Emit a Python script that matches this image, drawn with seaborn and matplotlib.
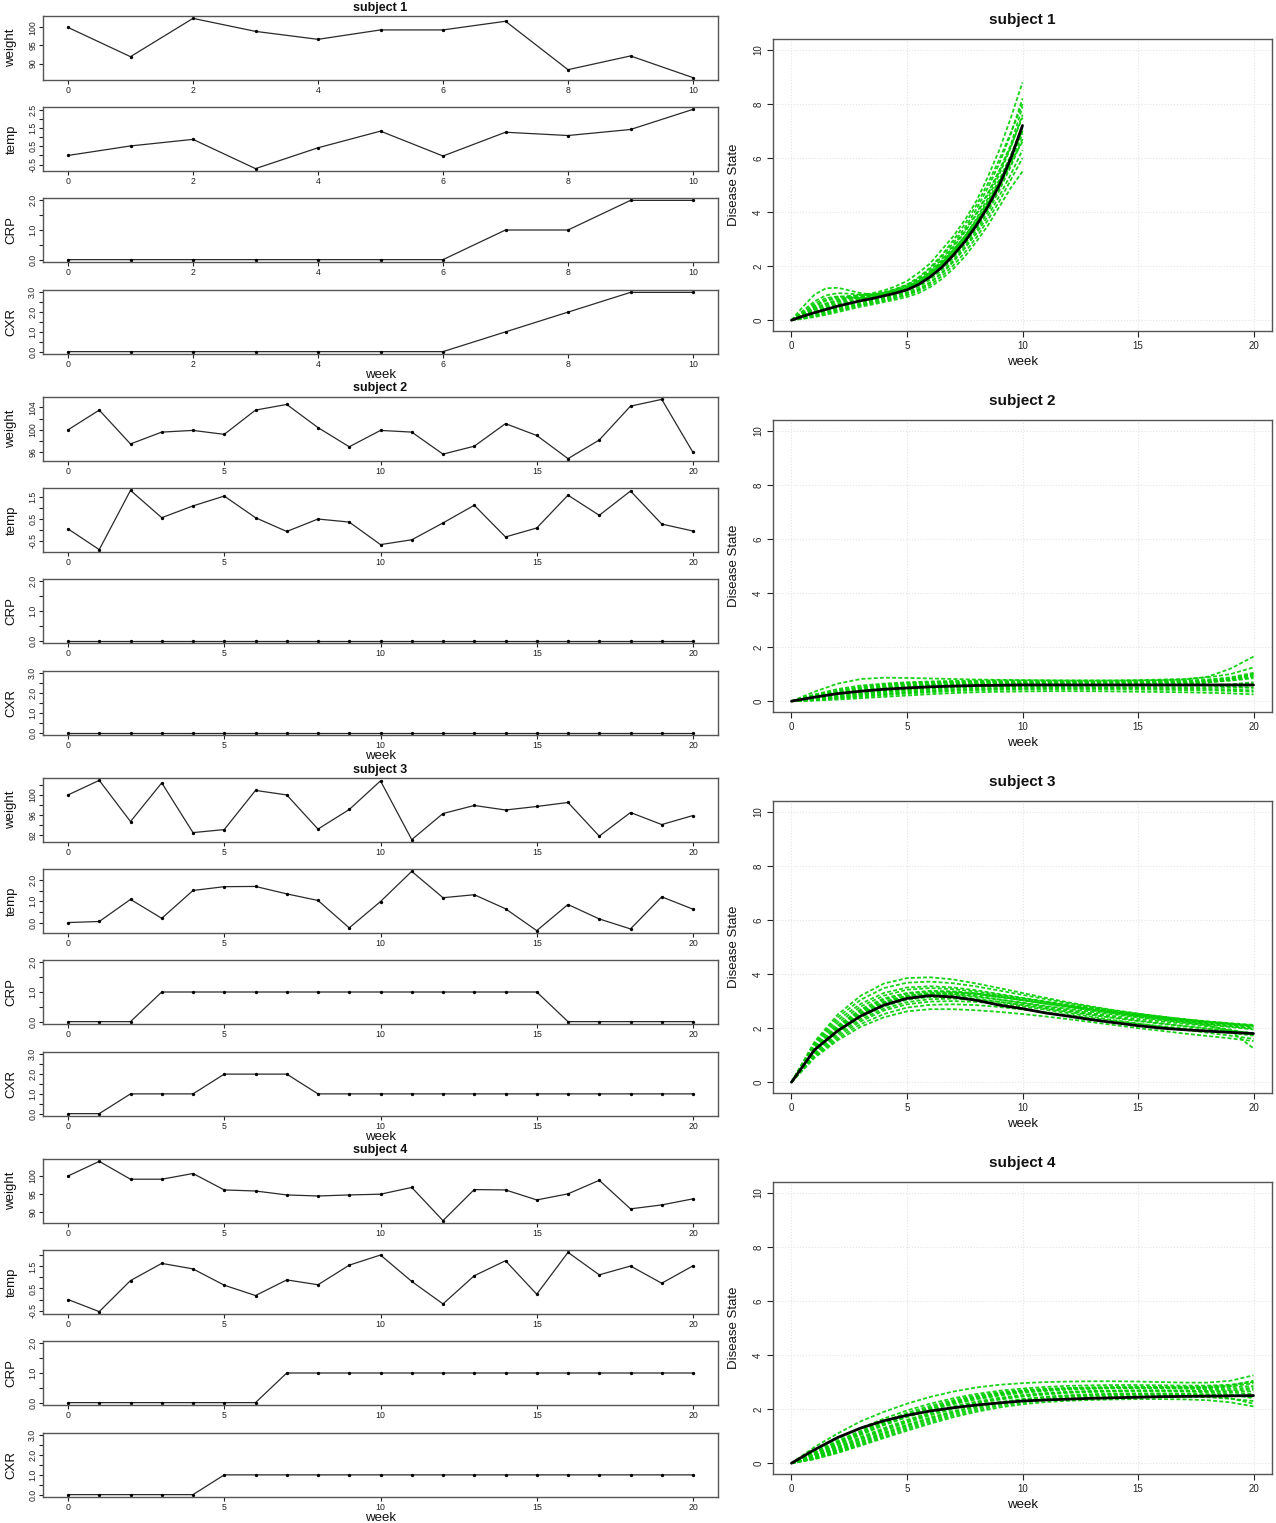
import matplotlib
matplotlib.use("Agg")
import matplotlib.pyplot as plt
import numpy as np
import pandas as pd
import seaborn as sns

# ---------------- data ----------------
subjects = ["subject 1", "subject 2", "subject 3", "subject 4"]
weeks_10 = [0, 1, 2, 3, 4, 5, 6, 7, 8, 9, 10]
weeks_20 = [0, 1, 2, 3, 4, 5, 6, 7, 8, 9, 10, 11, 12, 13, 14, 15, 16, 17, 18, 19, 20]
weeks_half10 = [0, 0.5, 1, 1.5, 2, 2.5, 3, 3.5, 4, 4.5, 5, 5.5, 6, 6.5, 7, 7.5, 8, 8.5, 9, 9.5, 10]

# subject 1 covariates
s1_weight = [100, 91.9, 102.5, 98.9, 96.7, 99.3, 99.3, 101.7, 88.3, 92.1, 86.1]
s1_temp = [0.0, 0.52, 0.88, -0.72, 0.42, 1.33, -0.03, 1.27, 1.09, 1.42, 2.52]
s1_crp = [0, 0, 0, 0, 0, 0, 0, 1, 1, 2, 2]
s1_cxr = [0, 0, 0, 0, 0, 0, 0, 1, 2, 3, 3]

# subject 2 covariates
s2_weight = [100, 103.5, 97.5, 99.6, 99.9, 99.2, 103.5, 104.5, 100.4, 97.0, 99.9,
             99.6, 95.7, 97.1, 101.1, 99.0, 94.9, 98.2, 104.2, 105.4, 96.0]
s2_temp = [0.05, -0.90, 1.81, 0.56, 1.10, 1.55, 0.56, -0.07, 0.50, 0.36, -0.67,
           -0.45, 0.32, 1.13, -0.32, 0.09, 1.59, 0.67, 1.78, 0.27, -0.05]
s2_crp = [0] * 21
s2_cxr = [0] * 21

# subject 3 covariates
s3_weight = [100, 102.9, 94.7, 102.4, 92.5, 93.1, 100.9, 100.0, 93.2, 97.1, 102.8,
             91.1, 96.3, 97.9, 97.0, 97.7, 98.5, 91.8, 96.5, 94.1, 95.9]
s3_temp = [0.0, 0.05, 1.09, 0.20, 1.51, 1.69, 1.70, 1.35, 1.04, -0.25, 0.99,
           2.41, 1.17, 1.31, 0.65, -0.38, 0.85, 0.17, -0.30, 1.21, 0.63]
s3_crp = [0, 0, 0, 1, 1, 1, 1, 1, 1, 1, 1, 1, 1, 1, 1, 1, 0, 0, 0, 0, 0]
s3_cxr = [0, 0, 1, 1, 1, 2, 2, 2, 1, 1, 1, 1, 1, 1, 1, 1, 1, 1, 1, 1, 1]

# subject 4 covariates
s4_weight = [100, 104.1, 99.1, 99.1, 100.7, 96.1, 95.8, 94.7, 94.4, 94.7, 94.9,
             96.8, 87.5, 96.2, 96.1, 93.3, 95.0, 98.8, 90.8, 91.9, 93.6]
s4_temp = [0.0, -0.55, 0.86, 1.64, 1.39, 0.65, 0.18, 0.89, 0.67, 1.56, 2.02,
           0.82, -0.20, 1.08, 1.76, 0.24, 2.14, 1.12, 1.52, 0.74, 1.53]
s4_crp = [0, 0, 0, 0, 0, 0, 0, 1, 1, 1, 1, 1, 1, 1, 1, 1, 1, 1, 1, 1, 1]
s4_cxr = [0, 0, 0, 0, 0, 1, 1, 1, 1, 1, 1, 1, 1, 1, 1, 1, 1, 1, 1, 1, 1]

# tick values / labels for the covariate panels
s1_weight_ticks = [90, 95, 100]; s1_weight_labels = ["90", "95", "100"]
s2_weight_ticks = [96, 98, 100, 102, 104]; s2_weight_labels = ["96", "", "100", "", "104"]
s3_weight_ticks = [92, 94, 96, 98, 100, 102]; s3_weight_labels = ["92", "", "96", "", "100", ""]
s4_weight_ticks = [90, 95, 100]; s4_weight_labels = ["90", "95", "100"]
s1_temp_ticks = [-0.5, 0, 0.5, 1, 1.5, 2, 2.5]; s1_temp_labels = ["-0.5", "", "0.5", "", "1.5", "", "2.5"]
s2_temp_ticks = [-0.5, 0, 0.5, 1, 1.5]; s2_temp_labels = ["-0.5", "", "0.5", "", "1.5"]
s3_temp_ticks = [0, 0.5, 1, 1.5, 2]; s3_temp_labels = ["0.0", "", "1.0", "", "2.0"]
s4_temp_ticks = [-0.5, 0, 0.5, 1, 1.5, 2]; s4_temp_labels = ["-0.5", "", "0.5", "", "1.5", ""]
crp_ticks = [0, 0.5, 1, 1.5, 2]; crp_labels = ["0.0", "", "1.0", "", "2.0"]
cxr_ticks = [0, 0.5, 1, 1.5, 2, 2.5, 3]; cxr_labels = ["0.0", "", "1.0", "", "2.0", "", "3.0"]
crp_range = [0, 2]
cxr_range = [0, 3]
x10_ticks = [0, 2, 4, 6, 8, 10]
x20_ticks = [0, 5, 10, 15, 20]
state_ticks = [0, 2, 4, 6, 8, 10]

# disease state: posterior mean (black) and sampled trajectories (green)
s1_mean = [0, 0.15, 0.28, 0.40, 0.52, 0.62, 0.72, 0.80, 0.90, 1.00, 1.12,
           1.32, 1.60, 1.95, 2.40, 2.90, 3.50, 4.20, 5.00, 6.00, 7.20]
s1_draws = [
    [0, 0.50, 0.95, 1.18, 1.20, 1.10, 1.00, 0.95, 1.00, 1.10, 1.25, 1.45, 1.75, 2.15, 2.60, 3.10, 3.70, 4.40, 5.20, 6.10, 7.00],
    [0, 0.25, 0.45, 0.62, 0.75, 0.85, 0.92, 1.00, 1.10, 1.25, 1.45, 1.75, 2.10, 2.60, 3.10, 3.70, 4.40, 5.30, 6.30, 7.50, 8.80],
    [0, 0.20, 0.40, 0.55, 0.68, 0.78, 0.85, 0.93, 1.02, 1.15, 1.30, 1.55, 1.90, 2.35, 2.85, 3.40, 4.10, 4.90, 5.80, 6.90, 8.20],
    [0, 0.18, 0.35, 0.50, 0.62, 0.72, 0.80, 0.88, 0.97, 1.07, 1.20, 1.42, 1.72, 2.10, 2.60, 3.10, 3.75, 4.50, 5.40, 6.40, 7.60],
    [0, 0.12, 0.25, 0.36, 0.47, 0.56, 0.65, 0.73, 0.82, 0.92, 1.03, 1.22, 1.50, 1.85, 2.30, 2.80, 3.40, 4.10, 4.90, 5.80, 6.90],
    [0, 0.08, 0.18, 0.28, 0.38, 0.48, 0.58, 0.66, 0.75, 0.84, 0.95, 1.12, 1.38, 1.72, 2.15, 2.65, 3.20, 3.85, 4.60, 5.40, 6.30],
    [0, 0.05, 0.12, 0.20, 0.30, 0.40, 0.50, 0.58, 0.67, 0.76, 0.86, 1.00, 1.22, 1.52, 1.90, 2.35, 2.90, 3.50, 4.20, 4.90, 5.50],
    [0, 0.30, 0.62, 0.82, 0.88, 0.85, 0.82, 0.84, 0.90, 1.00, 1.15, 1.38, 1.68, 2.05, 2.50, 3.00, 3.60, 4.30, 5.10, 6.00, 7.00],
    [0, 0.22, 0.50, 0.72, 0.80, 0.82, 0.83, 0.86, 0.92, 1.02, 1.18, 1.40, 1.70, 2.10, 2.55, 3.05, 3.65, 4.35, 5.15, 6.10, 7.20],
    [0, 0.10, 0.22, 0.32, 0.42, 0.52, 0.60, 0.70, 0.80, 0.90, 1.00, 1.15, 1.40, 1.75, 2.20, 2.70, 3.30, 4.00, 4.80, 5.70, 6.70],
    [0, 0.20, 0.42, 0.60, 0.72, 0.80, 0.86, 0.92, 1.00, 1.12, 1.28, 1.50, 1.82, 2.25, 2.75, 3.30, 3.95, 4.70, 5.55, 6.50, 7.90],
    [0, 0.15, 0.30, 0.45, 0.58, 0.68, 0.76, 0.84, 0.94, 1.05, 1.18, 1.38, 1.68, 2.05, 2.50, 3.00, 3.60, 4.30, 5.10, 6.00, 7.10],
    [0, 0.28, 0.55, 0.75, 0.86, 0.90, 0.92, 0.95, 1.03, 1.15, 1.32, 1.58, 1.95, 2.40, 2.95, 3.55, 4.25, 5.05, 5.95, 6.95, 8.00],
    [0, 0.06, 0.15, 0.25, 0.35, 0.45, 0.55, 0.63, 0.72, 0.82, 0.93, 1.08, 1.30, 1.62, 2.02, 2.50, 3.05, 3.70, 4.40, 5.20, 6.00],
    [0, 0.35, 0.70, 0.92, 1.00, 0.98, 0.94, 0.93, 0.98, 1.08, 1.22, 1.45, 1.78, 2.20, 2.70, 3.25, 3.90, 4.65, 5.50, 6.45, 7.50],
    [0, 0.14, 0.28, 0.42, 0.54, 0.64, 0.73, 0.81, 0.90, 1.00, 1.12, 1.30, 1.58, 1.95, 2.42, 2.95, 3.55, 4.25, 5.00, 5.85, 6.60],
]

s2_mean = [0, 0.15, 0.28, 0.37, 0.44, 0.49, 0.53, 0.56, 0.58, 0.59, 0.60,
           0.60, 0.60, 0.60, 0.60, 0.60, 0.60, 0.60, 0.60, 0.60, 0.60]
s2_draws = [
    [0, 0.35, 0.65, 0.82, 0.87, 0.86, 0.84, 0.82, 0.80, 0.79, 0.78, 0.77, 0.76, 0.76, 0.76, 0.77, 0.78, 0.80, 0.90, 1.20, 1.65],
    [0, 0.25, 0.45, 0.58, 0.65, 0.70, 0.73, 0.75, 0.76, 0.77, 0.77, 0.77, 0.77, 0.77, 0.77, 0.78, 0.80, 0.82, 0.88, 1.00, 1.25],
    [0, 0.20, 0.37, 0.50, 0.58, 0.64, 0.68, 0.70, 0.71, 0.72, 0.72, 0.72, 0.72, 0.72, 0.73, 0.74, 0.75, 0.76, 0.80, 0.88, 1.05],
    [0, 0.15, 0.30, 0.42, 0.50, 0.56, 0.60, 0.63, 0.65, 0.66, 0.66, 0.66, 0.66, 0.66, 0.66, 0.67, 0.68, 0.70, 0.72, 0.78, 0.90],
    [0, 0.10, 0.20, 0.30, 0.38, 0.44, 0.49, 0.52, 0.55, 0.56, 0.57, 0.57, 0.57, 0.57, 0.57, 0.57, 0.57, 0.57, 0.58, 0.60, 0.65],
    [0, 0.06, 0.14, 0.22, 0.29, 0.35, 0.40, 0.44, 0.47, 0.49, 0.50, 0.50, 0.50, 0.50, 0.50, 0.50, 0.50, 0.50, 0.50, 0.50, 0.50],
    [0, 0.04, 0.10, 0.16, 0.22, 0.28, 0.33, 0.37, 0.40, 0.42, 0.43, 0.44, 0.44, 0.44, 0.44, 0.43, 0.42, 0.41, 0.40, 0.38, 0.35],
    [0, 0.02, 0.06, 0.11, 0.16, 0.21, 0.26, 0.30, 0.33, 0.35, 0.36, 0.37, 0.37, 0.37, 0.36, 0.35, 0.34, 0.33, 0.31, 0.29, 0.25],
    [0, 0.12, 0.26, 0.38, 0.47, 0.54, 0.59, 0.62, 0.64, 0.65, 0.65, 0.64, 0.63, 0.62, 0.61, 0.60, 0.60, 0.62, 0.68, 0.80, 1.00],
    [0, 0.08, 0.17, 0.26, 0.34, 0.41, 0.46, 0.50, 0.53, 0.55, 0.56, 0.57, 0.58, 0.59, 0.60, 0.62, 0.64, 0.66, 0.70, 0.76, 0.85],
    [0, 0.18, 0.34, 0.46, 0.54, 0.60, 0.64, 0.67, 0.69, 0.70, 0.70, 0.70, 0.70, 0.69, 0.69, 0.69, 0.70, 0.72, 0.76, 0.85, 1.00],
    [0, 0.05, 0.12, 0.19, 0.26, 0.32, 0.37, 0.41, 0.44, 0.46, 0.47, 0.48, 0.48, 0.48, 0.48, 0.48, 0.47, 0.46, 0.45, 0.43, 0.40],
    [0, 0.13, 0.27, 0.39, 0.48, 0.55, 0.60, 0.63, 0.65, 0.66, 0.66, 0.66, 0.66, 0.65, 0.64, 0.63, 0.62, 0.60, 0.58, 0.55, 0.50],
    [0, 0.09, 0.19, 0.28, 0.36, 0.42, 0.47, 0.51, 0.54, 0.56, 0.57, 0.58, 0.59, 0.60, 0.60, 0.60, 0.60, 0.60, 0.60, 0.62, 0.70],
    [0, 0.22, 0.40, 0.53, 0.62, 0.67, 0.70, 0.72, 0.73, 0.73, 0.73, 0.73, 0.73, 0.72, 0.72, 0.72, 0.72, 0.73, 0.75, 0.82, 0.95],
]

s3_mean = [0, 1.20, 1.90, 2.45, 2.85, 3.10, 3.20, 3.15, 3.03, 2.85, 2.72,
           2.56, 2.44, 2.31, 2.20, 2.09, 2.00, 1.94, 1.89, 1.84, 1.80]
s3_draws = [
    [0, 1.50, 2.50, 3.20, 3.65, 3.85, 3.88, 3.80, 3.65, 3.48, 3.30, 3.12, 2.95, 2.80, 2.66, 2.54, 2.43, 2.33, 2.24, 2.17, 2.10],
    [0, 1.40, 2.30, 2.90, 3.30, 3.50, 3.55, 3.50, 3.40, 3.26, 3.12, 2.98, 2.84, 2.70, 2.58, 2.47, 2.37, 2.28, 2.20, 2.12, 2.05],
    [0, 1.30, 2.10, 2.70, 3.10, 3.30, 3.38, 3.36, 3.28, 3.16, 3.03, 2.90, 2.77, 2.65, 2.53, 2.42, 2.32, 2.22, 2.13, 2.04, 1.95],
    [0, 1.10, 1.85, 2.40, 2.80, 3.05, 3.15, 3.15, 3.08, 2.97, 2.85, 2.72, 2.60, 2.48, 2.37, 2.26, 2.16, 2.07, 1.98, 1.90, 1.82],
    [0, 0.90, 1.55, 2.05, 2.40, 2.62, 2.70, 2.70, 2.66, 2.60, 2.52, 2.43, 2.33, 2.22, 2.11, 2.00, 1.90, 1.80, 1.71, 1.62, 1.52],
    [0, 1.20, 2.00, 2.55, 2.95, 3.20, 3.30, 3.32, 3.28, 3.20, 3.10, 2.98, 2.86, 2.74, 2.62, 2.50, 2.38, 2.27, 2.17, 2.08, 2.00],
    [0, 1.00, 1.70, 2.25, 2.65, 2.88, 2.98, 3.00, 2.97, 2.90, 2.80, 2.68, 2.55, 2.42, 2.29, 2.17, 2.05, 1.94, 1.83, 1.72, 1.60],
    [0, 1.25, 2.05, 2.60, 2.98, 3.20, 3.28, 3.26, 3.18, 3.06, 2.93, 2.80, 2.67, 2.55, 2.44, 2.34, 2.25, 2.16, 2.07, 1.95, 1.75],
    [0, 1.15, 1.95, 2.50, 2.90, 3.12, 3.22, 3.22, 3.15, 3.05, 2.94, 2.82, 2.71, 2.60, 2.50, 2.40, 2.30, 2.20, 2.10, 1.90, 1.25],
    [0, 1.35, 2.20, 2.80, 3.20, 3.42, 3.48, 3.44, 3.35, 3.23, 3.10, 2.97, 2.84, 2.72, 2.61, 2.51, 2.42, 2.33, 2.25, 2.18, 2.12],
    [0, 1.28, 2.08, 2.65, 3.05, 3.27, 3.35, 3.34, 3.27, 3.16, 3.04, 2.92, 2.80, 2.69, 2.58, 2.48, 2.39, 2.30, 2.22, 2.14, 2.06],
    [0, 1.05, 1.78, 2.32, 2.72, 2.96, 3.07, 3.09, 3.05, 2.97, 2.87, 2.75, 2.63, 2.51, 2.39, 2.28, 2.18, 2.08, 1.99, 1.90, 1.80],
    [0, 1.18, 1.98, 2.52, 2.92, 3.16, 3.27, 3.28, 3.23, 3.14, 3.03, 2.91, 2.79, 2.67, 2.56, 2.45, 2.35, 2.25, 2.15, 2.06, 1.98],
    [0, 0.95, 1.62, 2.15, 2.52, 2.76, 2.86, 2.88, 2.85, 2.78, 2.69, 2.59, 2.48, 2.37, 2.26, 2.16, 2.07, 1.99, 1.91, 1.83, 1.72],
    [0, 1.45, 2.40, 3.05, 3.48, 3.68, 3.72, 3.66, 3.54, 3.39, 3.23, 3.07, 2.92, 2.78, 2.65, 2.53, 2.42, 2.32, 2.23, 2.15, 2.08],
]

s4_mean = [0, 0.50, 0.95, 1.30, 1.57, 1.77, 1.93, 2.05, 2.15, 2.23, 2.30,
           2.34, 2.37, 2.40, 2.42, 2.44, 2.46, 2.47, 2.48, 2.49, 2.50]
s4_draws = [
    [0, 0.60, 1.10, 1.55, 1.90, 2.20, 2.45, 2.65, 2.80, 2.90, 2.96, 3.00, 3.02, 3.03, 3.03, 3.02, 3.00, 2.98, 2.98, 3.05, 3.25],
    [0, 0.45, 0.90, 1.30, 1.65, 1.95, 2.20, 2.40, 2.56, 2.68, 2.76, 2.82, 2.86, 2.88, 2.89, 2.89, 2.88, 2.87, 2.87, 2.90, 3.00],
    [0, 0.35, 0.75, 1.12, 1.47, 1.78, 2.04, 2.26, 2.43, 2.56, 2.65, 2.71, 2.75, 2.77, 2.78, 2.78, 2.78, 2.77, 2.76, 2.76, 2.78],
    [0, 0.28, 0.62, 0.97, 1.30, 1.60, 1.87, 2.10, 2.28, 2.42, 2.52, 2.59, 2.64, 2.67, 2.68, 2.69, 2.69, 2.68, 2.67, 2.66, 2.65],
    [0, 0.22, 0.50, 0.82, 1.13, 1.42, 1.69, 1.92, 2.11, 2.26, 2.37, 2.45, 2.50, 2.53, 2.55, 2.56, 2.56, 2.55, 2.53, 2.50, 2.45],
    [0, 0.15, 0.38, 0.65, 0.93, 1.20, 1.46, 1.70, 1.90, 2.06, 2.18, 2.26, 2.31, 2.34, 2.36, 2.37, 2.37, 2.36, 2.33, 2.25, 2.10],
    [0, 0.30, 0.68, 1.05, 1.40, 1.70, 1.96, 2.18, 2.36, 2.50, 2.60, 2.67, 2.72, 2.75, 2.77, 2.78, 2.79, 2.79, 2.80, 2.85, 2.95],
    [0, 0.25, 0.55, 0.88, 1.20, 1.50, 1.77, 2.00, 2.20, 2.35, 2.46, 2.54, 2.60, 2.63, 2.65, 2.66, 2.66, 2.65, 2.62, 2.55, 2.40],
    [0, 0.40, 0.82, 1.20, 1.55, 1.86, 2.12, 2.33, 2.50, 2.62, 2.70, 2.75, 2.78, 2.80, 2.81, 2.81, 2.81, 2.80, 2.80, 2.82, 2.85],
    [0, 0.18, 0.44, 0.74, 1.04, 1.32, 1.58, 1.82, 2.02, 2.18, 2.30, 2.39, 2.45, 2.49, 2.51, 2.52, 2.52, 2.51, 2.48, 2.40, 2.20],
    [0, 0.32, 0.70, 1.08, 1.43, 1.74, 2.00, 2.22, 2.40, 2.54, 2.64, 2.71, 2.76, 2.78, 2.79, 2.79, 2.78, 2.76, 2.73, 2.70, 2.72],
    [0, 0.20, 0.47, 0.78, 1.09, 1.38, 1.64, 1.88, 2.08, 2.24, 2.36, 2.45, 2.51, 2.55, 2.57, 2.58, 2.58, 2.57, 2.55, 2.52, 2.50],
    [0, 0.38, 0.79, 1.16, 1.50, 1.80, 2.06, 2.28, 2.46, 2.59, 2.68, 2.74, 2.78, 2.80, 2.81, 2.82, 2.82, 2.82, 2.83, 2.88, 3.05],
    [0, 0.26, 0.58, 0.92, 1.25, 1.55, 1.82, 2.05, 2.24, 2.39, 2.50, 2.58, 2.63, 2.66, 2.68, 2.69, 2.69, 2.68, 2.66, 2.62, 2.55],
    [0, 0.16, 0.40, 0.69, 0.98, 1.26, 1.52, 1.76, 1.96, 2.12, 2.24, 2.33, 2.39, 2.43, 2.45, 2.46, 2.47, 2.46, 2.44, 2.38, 2.30],
]

# ---------------- style ----------------
sns.set_theme(style="white")
plt.rcParams["font.family"] = ["Liberation Sans", "DejaVu Sans"]
plt.rcParams["axes.edgecolor"] = "#555555"
plt.rcParams["axes.linewidth"] = 1.0

W, H = 1276, 1523
fig = plt.figure(figsize=(W / 100, H / 100), dpi=100)
fig.patch.set_facecolor("white")


def px_axes(x0, y0, x1, y1):
    return fig.add_axes([x0 / W, 1 - y1 / H, (x1 - x0) / W, (y1 - y0) / H])


def left_panel(ax, x, y, yticks, ylabels, xticks, name, yrange=None, show_week=False):
    sns.lineplot(x=x, y=y, ax=ax, color="#2a2a2a", lw=0.9, marker="o",
                 markersize=2.4, markeredgewidth=0, markerfacecolor="black",
                 estimator=None)
    xmin, xmax = min(x), max(x)
    xp = 0.04 * (xmax - xmin)
    ax.set_xlim(xmin - xp, xmax + xp)
    lo, hi = (min(y), max(y)) if yrange is None else yrange
    yp = 0.04 * (hi - lo)
    ax.set_ylim(lo - yp, hi + yp)
    ax.set_xticks(xticks)
    ax.set_xticklabels([str(t) for t in xticks])
    ax.set_yticks(yticks)
    ax.set_yticklabels(ylabels, rotation=90, va="center")
    ax.tick_params(axis="both", direction="out", length=3, width=0.8,
                   labelsize=6.3, pad=1.2, colors="#222222", left=True, bottom=True)
    ax.set_ylabel(name, fontsize=9.5, color="#111111")
    ax.yaxis.set_label_coords(-0.038, 0.5)
    if show_week:
        ax.set_xlabel("week", fontsize=9.5, color="#111111")
        ax.xaxis.set_label_coords(0.5, -0.23)
    else:
        ax.set_xlabel("")
    for s in ax.spines.values():
        s.set_color("#555555")
        s.set_linewidth(1.0)


def right_panel(ax, weeks, mean, draws):
    rows = []
    for k, curve in enumerate(draws):
        for w, v in zip(weeks, curve):
            rows.append((k, w, v))
    df = pd.DataFrame(rows, columns=["draw", "week", "state"])
    ax.grid(True, color="#e4e4e4", linestyle=":", linewidth=0.8)
    ax.set_axisbelow(True)
    sns.lineplot(data=df, x="week", y="state", units="draw", estimator=None,
                 color="#00CD00", lw=1.3, linestyle=(0, (2.2, 1.2)), ax=ax,
                 alpha=0.9)
    sns.lineplot(x=weeks, y=mean, color="black", lw=2.0, ax=ax, estimator=None)
    ax.set_xlim(-0.8, 20.8)
    ax.set_ylim(-0.4, 10.4)
    ax.set_xticks(x20_ticks)
    ax.set_xticklabels([str(t) for t in x20_ticks])
    ax.set_yticks(state_ticks)
    ax.set_yticklabels([str(t) for t in state_ticks], rotation=90, va="center")
    ax.tick_params(axis="both", direction="out", length=4, width=0.8,
                   labelsize=7, pad=3, colors="#222222", left=True, bottom=True)
    ax.set_ylabel("Disease State", fontsize=9.5, color="#111111")
    ax.yaxis.set_label_coords(-0.066, 0.5)
    ax.set_xlabel("week", fontsize=9.5, color="#111111")
    ax.xaxis.set_label_coords(0.5, -0.085)
    for s in ax.spines.values():
        s.set_color("#555555")
        s.set_linewidth(1.0)


covariates = [
    (weeks_10, s1_weight, s1_temp, s1_crp, s1_cxr, s1_weight_ticks, s1_weight_labels,
     s1_temp_ticks, s1_temp_labels, x10_ticks),
    (weeks_20, s2_weight, s2_temp, s2_crp, s2_cxr, s2_weight_ticks, s2_weight_labels,
     s2_temp_ticks, s2_temp_labels, x20_ticks),
    (weeks_20, s3_weight, s3_temp, s3_crp, s3_cxr, s3_weight_ticks, s3_weight_labels,
     s3_temp_ticks, s3_temp_labels, x20_ticks),
    (weeks_20, s4_weight, s4_temp, s4_crp, s4_cxr, s4_weight_ticks, s4_weight_labels,
     s4_temp_ticks, s4_temp_labels, x20_ticks),
]
states = [
    (weeks_half10, s1_mean, s1_draws),
    (weeks_20, s2_mean, s2_draws),
    (weeks_20, s3_mean, s3_draws),
    (weeks_20, s4_mean, s4_draws),
]

LX0, LX1 = 43, 718
RX0, RX1 = 773, 1272
panel_rows = [(16, 80), (107, 171), (198, 262), (290, 354)]

for i, subj in enumerate(subjects):
    off = i * 381
    (wk, wt, tp, crp, cxr, wtt, wtl, tpt, tpl, xt) = covariates[i]
    fig.text((LX0 + LX1) / 2 / W, 1 - (off + 7.5) / H, subj, ha="center", va="center",
             fontsize=9, fontweight="bold", color="#111111")
    specs = [
        (wt, wtt, wtl, "weight", None),
        (tp, tpt, tpl, "temp", None),
        (crp, crp_ticks, crp_labels, "CRP", crp_range),
        (cxr, cxr_ticks, cxr_labels, "CXR", cxr_range),
    ]
    for j, (vals, yt, yl, name, yr) in enumerate(specs):
        y0, y1 = panel_rows[j]
        ax = px_axes(LX0, off + y0, LX1, off + y1)
        left_panel(ax, wk, vals, yt, yl, xt, name, yrange=yr, show_week=(j == 3))

    swk, smean, sdraws = states[i]
    fig.text((RX0 + RX1) / 2 / W, 1 - (off + 20) / H, subj, ha="center", va="center",
             fontsize=11, fontweight="bold", color="#111111")
    axr = px_axes(RX0, off + 39, RX1, off + 331)
    right_panel(axr, swk, smean, sdraws)

fig.savefig("out.png", dpi=100, facecolor="white")
